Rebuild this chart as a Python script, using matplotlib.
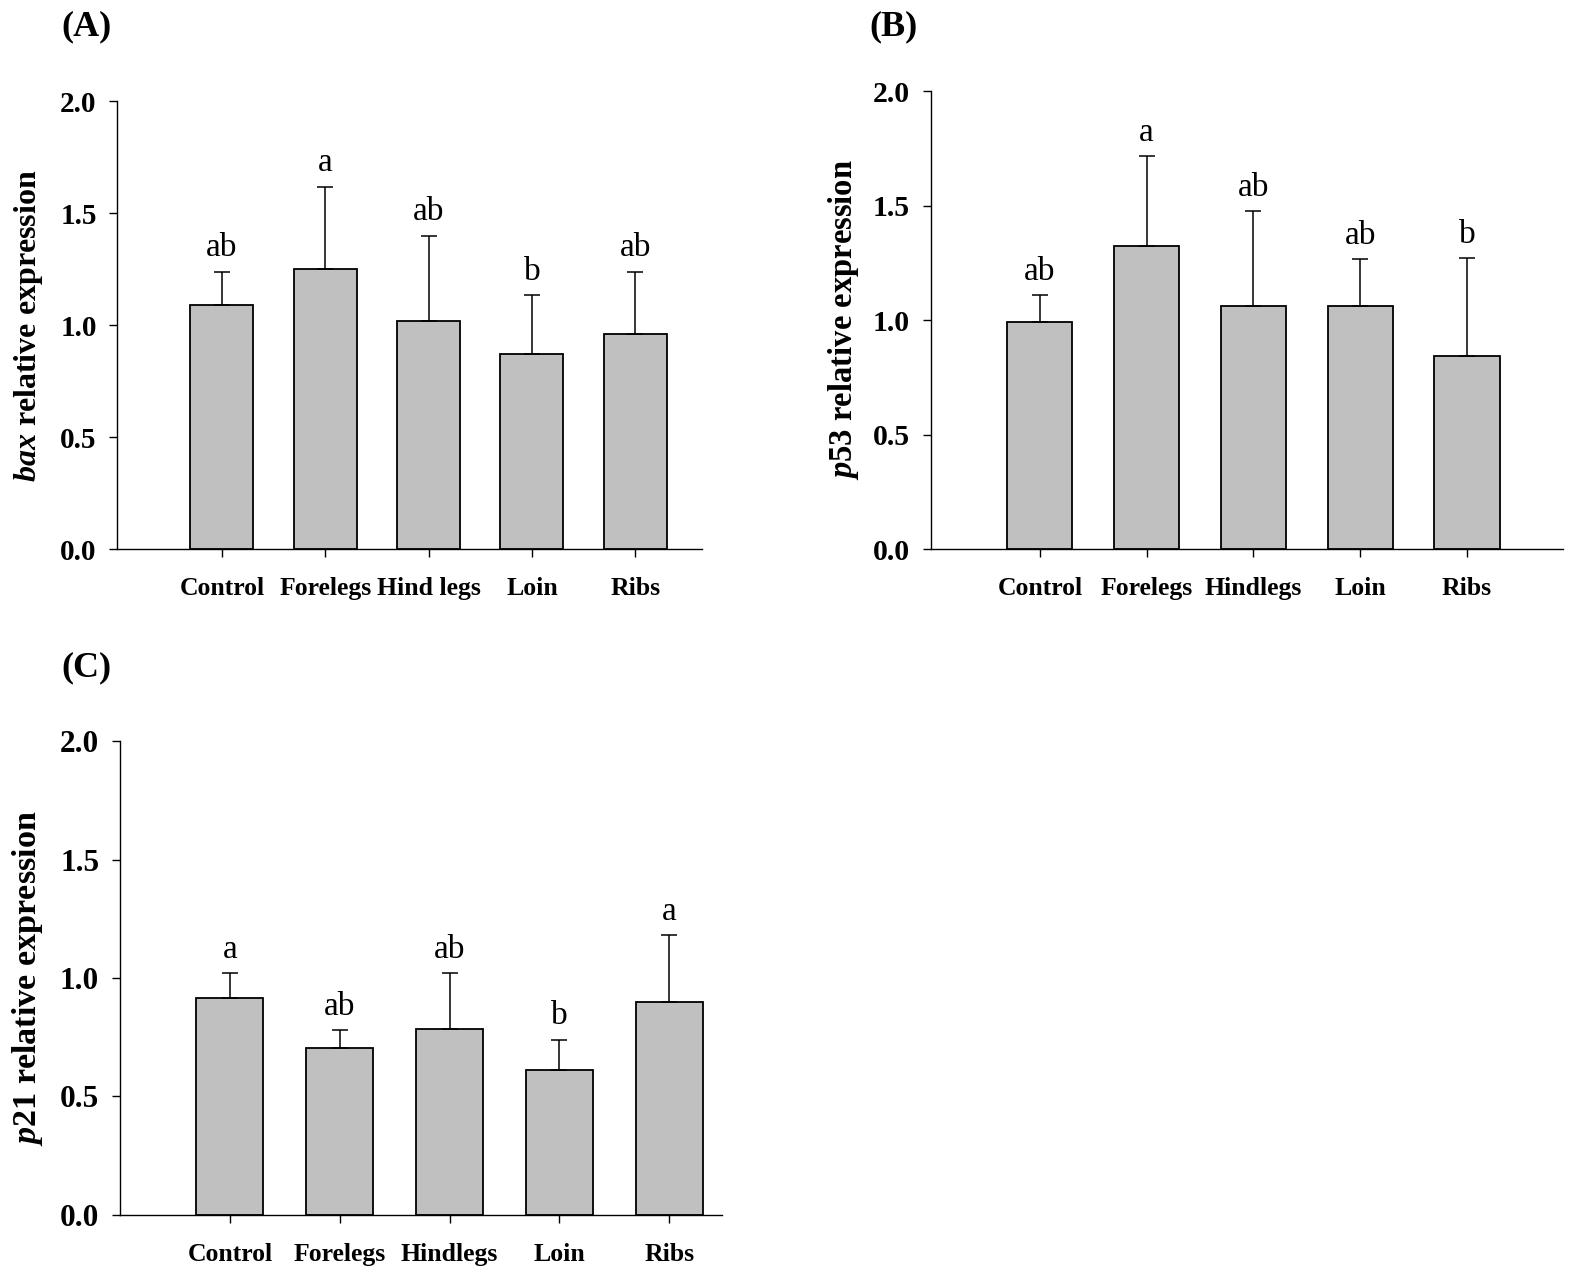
import matplotlib

matplotlib.use("Agg")

import matplotlib.pyplot as plt  # noqa: E402
from matplotlib.ticker import FormatStrFormatter  # noqa: E402

CATS_A = ["Control", "Forelegs", "Hind legs", "Loin", "Ribs"]
CATS_BC = ["Control", "Forelegs", "Hindlegs", "Loin", "Ribs"]

BAX_MEAN = [1.09, 1.25, 1.02, 0.87, 0.96]
BAX_ERR = [0.15, 0.37, 0.38, 0.265, 0.28]
BAX_LETTERS = ["ab", "a", "ab", "b", "ab"]

P53_MEAN = [0.99, 1.325, 1.06, 1.06, 0.845]
P53_ERR = [0.12, 0.39, 0.415, 0.205, 0.425]
P53_LETTERS = ["ab", "a", "ab", "ab", "b"]

P21_MEAN = [0.915, 0.705, 0.785, 0.61, 0.90]
P21_ERR = [0.105, 0.075, 0.235, 0.13, 0.28]
P21_LETTERS = ["a", "ab", "ab", "b", "a"]

YTICKS = [0.0, 0.5, 1.0, 1.5, 2.0]

plt.rcParams["font.family"] = "Liberation Serif"
plt.rcParams["mathtext.fontset"] = "custom"
plt.rcParams["mathtext.it"] = "Liberation Serif:italic:bold"
plt.rcParams["mathtext.rm"] = "Liberation Serif:bold"
plt.rcParams["mathtext.bf"] = "Liberation Serif:bold"

BAR_COLOR = "#c0c0c0"


def panel(ax, cats, means, errs, letters, gene, xlim, label_x, scale=1.0):
    x = range(len(cats))
    ax.bar(x, means, 0.61, color=BAR_COLOR, edgecolor="black", linewidth=1.3, zorder=2)
    ax.errorbar(
        x,
        means,
        yerr=[[0] * len(errs), errs],
        fmt="none",
        ecolor="black",
        elinewidth=1.1,
        capsize=6,
        capthick=1.1,
        zorder=3,
    )
    for xi, m, e, lab in zip(x, means, errs, letters, strict=True):
        ax.annotate(
            lab,
            (xi, m + e),
            xytext=(0, 11),
            textcoords="offset points",
            ha="center",
            va="baseline",
            fontsize=24,
        )
    ax.set_xlim(*xlim)
    ax.set_ylim(0, 2.0)
    ax.set_yticks(YTICKS)
    ax.yaxis.set_major_formatter(FormatStrFormatter("%.1f"))
    ax.set_xticks(list(x))
    ax.set_xticklabels(cats, fontsize=18.5, fontweight="bold")
    for t in ax.get_yticklabels():
        t.set_fontsize(21 * scale)
        t.set_fontweight("bold")
    ax.tick_params(axis="y", length=6, width=1, pad=9)
    ax.tick_params(axis="x", length=6, width=1, pad=14)
    ax.spines["top"].set_visible(False)
    ax.spines["right"].set_visible(False)
    ax.spines["left"].set_linewidth(1)
    ax.spines["bottom"].set_linewidth(1)
    ax.set_ylabel(
        rf"$\mathit{{{gene}}}$ relative expression",
        fontsize=23 * scale,
        fontweight="bold",
    )
    ax.yaxis.set_label_coords(label_x, 0.5)


fig = plt.figure(figsize=(15.75, 12.75), dpi=100)

ax_a = fig.add_axes([0.0746, 0.5694, 0.3714, 0.3510])
ax_b = fig.add_axes([0.5911, 0.5694, 0.4013, 0.3592])
ax_c = fig.add_axes([0.0762, 0.0471, 0.3822, 0.3717])

panel(ax_a, CATS_A, BAX_MEAN, BAX_ERR, BAX_LETTERS, "bax", (-1.01, 4.65), -0.124)
panel(ax_b, CATS_BC, P53_MEAN, P53_ERR, P53_LETTERS, "p53", (-1.02, 4.9), -0.11, 1.02)
panel(ax_c, CATS_BC, P21_MEAN, P21_ERR, P21_LETTERS, "p21", (-1.0, 4.48), -0.125, 1.07)

for txt, xf, yf in [("(A)", 0.039, 0.979), ("(B)", 0.552, 0.979), ("(C)", 0.039, 0.476)]:
    fig.text(xf, yf, txt, fontsize=26, fontweight="bold", ha="left", va="center")

fig.savefig("out.png", dpi=100)
